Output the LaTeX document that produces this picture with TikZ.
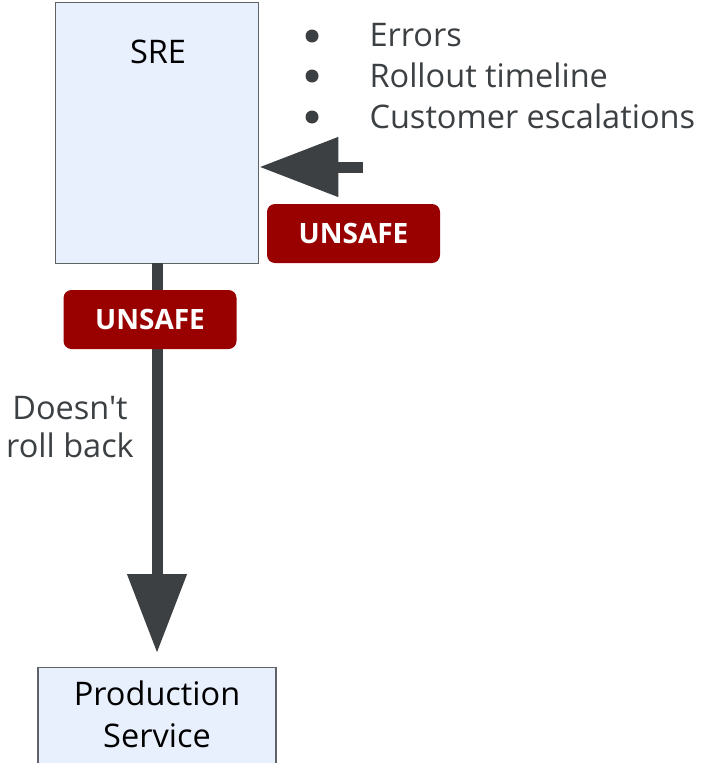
\documentclass[tikz,border=0pt]{standalone}
\usepackage{fontspec}
\setmainfont{Open Sans}
\newfontfamily\plainfont{Open Sans}
\usetikzlibrary{arrows.meta}
\definecolor{boxfill}{HTML}{E8F0FE}
\definecolor{boxline}{HTML}{5F6368}
\definecolor{ink}{HTML}{3C4043}
\definecolor{badge}{HTML}{990000}
\tikzset{
  blk/.style={draw=boxline, line width=1.3pt, fill=boxfill, inner sep=0pt},
  badgebox/.style={fill=badge, rounded corners=8pt, minimum width=173pt, minimum height=59pt, inner sep=0pt,
    text=white, font=\fontsize{28}{30}\selectfont\bfseries},
  flow/.style={draw=ink, line width=11pt, -{Triangle[length=79pt, width=57pt]}},
  lbl/.style={text=ink, font=\fontsize{32.5}{38}\selectfont, align=center},
  dot/.style={circle, fill=ink, minimum size=13pt, inner sep=0pt}
}
\begin{document}
\begin{tikzpicture}[x=1pt, y=-1pt]
\clip (0,0) rectangle (704,763);
\fill[white] (0,0) rectangle (704,763);
\node[blk, minimum width=203pt, minimum height=261pt, anchor=north west] (sre) at (55,2) {};
\node[font=\fontsize{32.5}{34}\selectfont] (sret) at (158,52) {SRE};
\node[blk, minimum width=238pt, minimum height=110pt, anchor=north] (prod) at (157,667) {};
\node[font=\fontsize{32.5}{42}\selectfont, align=center, anchor=north] (prodt) at (157,677) {Production\\Service};
\node[dot] (d1) at (312,36) {};
\node[dot] (d2) at (312,76) {};
\node[dot] (d3) at (312,117) {};
\node[lbl, anchor=west] (b1) at (366,35) {Errors};
\node[lbl, anchor=west] (b2) at (366,75) {Rollout timeline};
\node[lbl, anchor=west] (b3) at (366,116) {Customer escalations};
\coordinate (src) at (363,167);
\draw[flow] (src) -- (src -| sre.east);
\coordinate (top) at (157,263);
\coordinate (tip) at (157,653);
\draw[flow] (top) -- (tip);
\node[badgebox] (u1) at (353.5,233.5) {UNSAFE};
\node[badgebox] (u2) at (150,319.5) {UNSAFE};
\node[lbl] (rb) at (70,427) {{\plainfont Doesn't}\\roll back};
\end{tikzpicture}
\end{document}
